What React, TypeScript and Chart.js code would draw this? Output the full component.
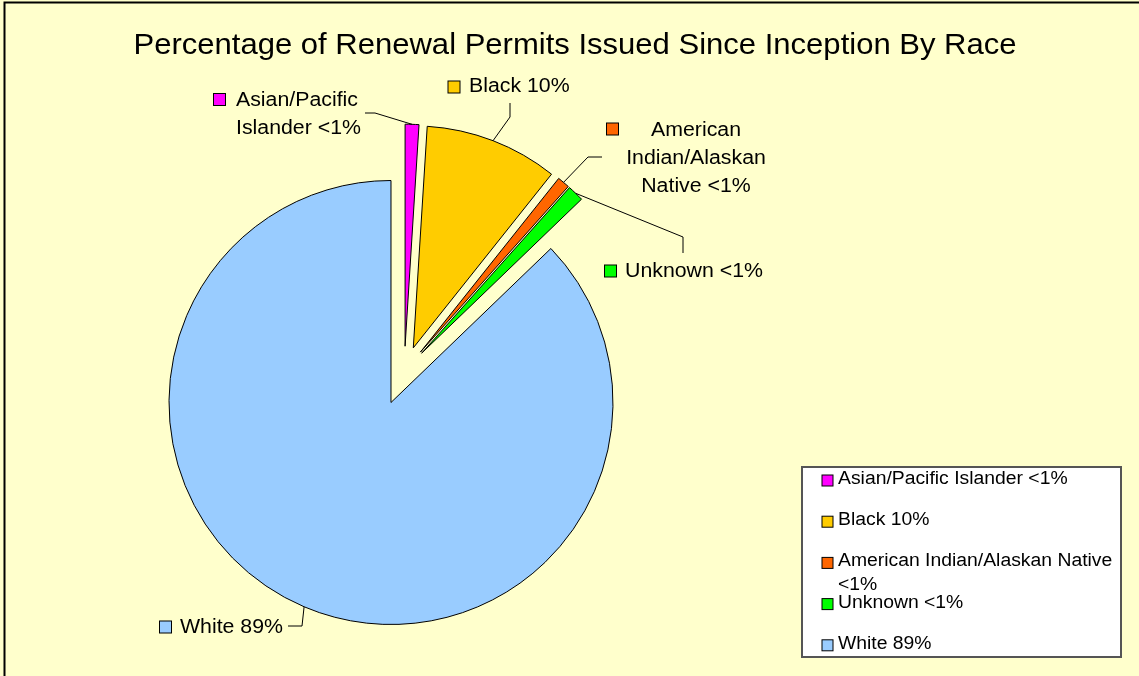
import React, { useEffect, useRef } from 'react';
import { Chart, registerables } from 'chart.js';

Chart.register(...registerables);

// ---------- data ----------
const chartTitle = 'Percentage of Renewal Permits Issued Since Inception By Race';
const categories = ['Asian/Pacific Islander', 'Black', 'American Indian/Alaskan Native', 'Unknown', 'White'];
const values = [1.0, 9.7, 0.9, 1.2, 87.2];
const pctLabels = ['<1%', '10%', '<1%', '<1%', '89%'];

// ---------- styles / layout ----------
const colors = ['#FF00FF', '#FFCC00', '#FF6600', '#00FF00', '#99CCFF'];
const W = 1139;
const H = 676;
const BG = '#FFFFCC';
const FONT = '"Liberation Sans", Arial, Helvetica, sans-serif';
const CX = 404.3;
const CY = 371.2;
const RADIUS = 222;
const EXPLODE = [25, 25, 25, 25, 34];

const labelLayout = [
  { mx: 219.5, my: 99.5, tx: 236, ty: 100, align: 'left', wrap: 130 },
  { mx: 454, my: 87, tx: 469, ty: 86.5, align: 'left', wrap: 220 },
  { mx: 612.5, my: 129, tx: 696, ty: 130, align: 'center', wrap: 155 },
  { mx: 610.5, my: 271, tx: 625, ty: 271, align: 'left', wrap: 220 },
  { mx: 165.5, my: 627, tx: 180, ty: 627, align: 'left', wrap: 220 },
];
const leaderElbows = [
  [[365, 113], [375, 113]],
  [[510, 103], [510, 117]],
  [[602, 157], [588, 157]],
  [[683, 253], [683, 237]],
  [[288, 626], [302, 626]],
];
const legendBox = { x: 802, y: 467, w: 319, h: 190 };

function drawText(ctx: CanvasRenderingContext2D, text: string, x: number, y: number, align: CanvasTextAlign, size: number, sx: number) {
  ctx.save();
  ctx.font = `${size}px ${FONT}`;
  ctx.textBaseline = 'middle';
  ctx.textAlign = align;
  ctx.fillStyle = '#000';
  ctx.translate(x, y);
  ctx.scale(sx, 1);
  ctx.fillText(text, 0, 0);
  ctx.restore();
}

function wrapText(ctx: CanvasRenderingContext2D, text: string, size: number, sx: number, maxW: number) {
  ctx.save();
  ctx.font = `${size}px ${FONT}`;
  const words = text.split(' ');
  const lines: string[] = [];
  let cur = '';
  for (const w of words) {
    const test = cur ? cur + ' ' + w : w;
    if (cur && ctx.measureText(test).width * sx > maxW) {
      lines.push(cur);
      cur = w;
    } else {
      cur = test;
    }
  }
  if (cur) lines.push(cur);
  ctx.restore();
  return lines;
}

function marker(ctx: CanvasRenderingContext2D, cx: number, cy: number, size: number, color: string) {
  ctx.save();
  ctx.fillStyle = color;
  ctx.fillRect(cx - size / 2, cy - size / 2, size, size);
  ctx.strokeStyle = '#000';
  ctx.lineWidth = 1;
  ctx.strokeRect(cx - size / 2, cy - size / 2, size, size);
  ctx.restore();
}

const decorPlugin = {
  id: 'decor',
  afterDatasetUpdate(chart: any) {
    // explode slices: move each arc's centre out along its mid-angle
    const ca = chart.chartArea;
    const cx = (ca.left + ca.right) / 2;
    const cy = (ca.top + ca.bottom) / 2;
    chart.getDatasetMeta(0).data.forEach((el: any, i: number) => {
      const mid = (el.startAngle + el.endAngle) / 2;
      el.x = cx + Math.cos(mid) * EXPLODE[i];
      el.y = cy + Math.sin(mid) * EXPLODE[i];
    });
  },
  beforeDraw(chart: any) {
    const ctx = chart.ctx as CanvasRenderingContext2D;
    ctx.save();
    ctx.fillStyle = BG;
    ctx.fillRect(0, 0, chart.width, chart.height);
    ctx.restore();
  },
  afterDraw(chart: any) {
    const ctx = chart.ctx as CanvasRenderingContext2D;
    // frame lines
    ctx.save();
    ctx.strokeStyle = '#000';
    ctx.lineWidth = 2;
    ctx.beginPath();
    ctx.moveTo(4.5, H);
    ctx.lineTo(4.5, 2.5);
    ctx.lineTo(W, 2.5);
    ctx.stroke();
    ctx.restore();

    // title
    drawText(ctx, chartTitle, 575, 46, 'center', 29, 1.07);

    // data labels + leader lines
    const arcs = chart.getDatasetMeta(0).data;
    arcs.forEach((arc: any, i: number) => {
      const p = arc.getProps(['x', 'y', 'startAngle', 'endAngle', 'outerRadius'], true);
      const mid = (p.startAngle + p.endAngle) / 2;
      const ex = p.x + Math.cos(mid) * p.outerRadius;
      const ey = p.y + Math.sin(mid) * p.outerRadius;
      const el = leaderElbows[i];
      ctx.save();
      ctx.strokeStyle = '#000';
      ctx.lineWidth = 1;
      ctx.beginPath();
      ctx.moveTo(el[0][0], el[0][1]);
      for (let k = 1; k < el.length; k++) ctx.lineTo(el[k][0], el[k][1]);
      ctx.lineTo(ex, ey);
      ctx.stroke();
      ctx.restore();

      const L = labelLayout[i];
      marker(ctx, L.mx, L.my, 12, colors[i]);
      const lines = wrapText(ctx, `${categories[i]} ${pctLabels[i]}`, 20, 1.065, L.wrap);
      lines.forEach((ln, j) => drawText(ctx, ln, L.tx, L.ty + j * 28, L.align as CanvasTextAlign, 20, 1.065));
    });

    // legend
    ctx.save();
    ctx.fillStyle = '#FFFFFF';
    ctx.fillRect(legendBox.x, legendBox.y, legendBox.w, legendBox.h);
    ctx.strokeStyle = '#555';
    ctx.lineWidth = 2;
    ctx.strokeRect(legendBox.x, legendBox.y, legendBox.w, legendBox.h);
    ctx.restore();
    categories.forEach((c, i) => {
      const y = 479 + i * 41.2;
      marker(ctx, 827.5, y + 1.5, 11, colors[i]);
      const lines = wrapText(ctx, `${c} ${pctLabels[i]}`, 18, 1.075, 278);
      lines.forEach((ln, j) => drawText(ctx, ln, 838, y + j * 24, 'left', 18, 1.075));
    });
  },
};

export default function App() {
  const ref = useRef<HTMLCanvasElement | null>(null);
  useEffect(() => {
    if (!ref.current) return;
    const chart = new Chart(ref.current, {
      type: 'pie',
      data: {
        labels: categories,
        datasets: [
          {
            data: values,
            backgroundColor: colors,
            borderColor: '#000000',
            borderWidth: 1,
            radius: RADIUS,
          } as any,
        ],
      },
      options: {
        responsive: false,
        animation: false,
        events: [],
        layout: {
          padding: {
            left: 0,
            right: W - 2 * CX,
            top: 2 * CY - H,
            bottom: 0,
          },
        },
        plugins: {
          legend: { display: false },
          title: { display: false },
          tooltip: { enabled: false },
        },
      } as any,
      plugins: [decorPlugin],
    });
    return () => chart.destroy();
  }, []);
  return (
    <div style={{ position: 'fixed', left: 0, top: 0, width: W, height: H, background: BG }}>
      <canvas ref={ref} width={W} height={H} style={{ display: 'block', width: W, height: H }} />
    </div>
  );
}
